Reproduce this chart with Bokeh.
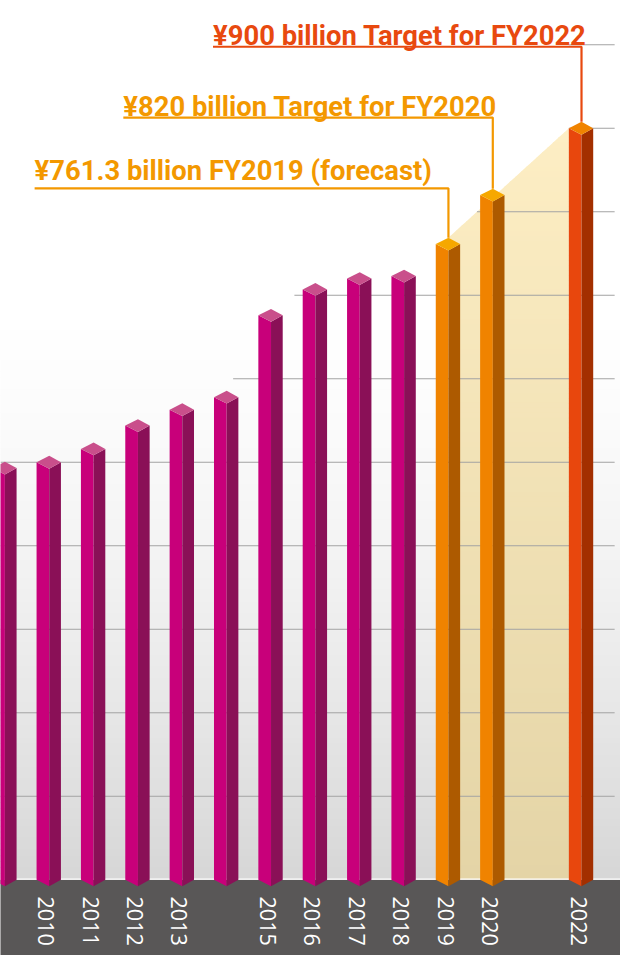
import numpy as np
from bokeh.plotting import figure
from bokeh.models import Range1d
from bokeh.core.properties import value
from bokeh.embed import file_html
from bokeh.resources import INLINE

# ---------------- data ----------------
years = [2009, 2010, 2011, 2012, 2013, 2014, 2015, 2016, 2017, 2018, 2019, 2020, 2022]
sales = [493, 500, 516, 544, 563, 578, 676, 707, 720, 723, 761.3, 820, 900]
kinds = ["actual"] * 10 + ["forecast", "target", "final"]
label_years = [2010, 2011, 2012, 2013, 2015, 2016, 2017, 2018, 2019, 2020, 2022]
grid_levels = [100, 200, 300, 400, 500, 600, 700, 800, 900, 1000]
callout_texts = ["¥761.3 billion FY2019 (forecast)",
                 "¥820 billion Target for FY2020",
                 "¥900 billion Target for FY2022"]
callout_years = [2019, 2020, 2022]

# ---------------- layout helpers (reference-pixel geometry) ----------------
PX_YEAR = 45.5      # px per year
PX_UNIT = 0.849     # px per billion yen
X_REF, SX_REF = 2010, 50.0
BASE_SY = 894.0
FS = 0.98           # font scale (figure is slightly smaller than reference)

def xd(sx):
    return X_REF + (sx - SX_REF) / PX_YEAR

def yd(sy):
    return (BASE_SY - sy) / PX_UNIT

WL = 13 / PX_YEAR      # front-left face width
WR = 12 / PX_YEAR      # right face width
DV = 6.5 / PX_UNIT     # half height of top diamond

XL, XR = xd(0), xd(636)
YB, YT = yd(971), yd(0)
GX_END = xd(630)

p = figure(width=620, height=955, x_range=Range1d(XL, XR), y_range=Range1d(YB, YT),
           output_backend="svg", toolbar_location=None, min_border=0)
p.axis.visible = False
p.grid.visible = False
p.outline_line_color = None
p.background_fill_color = "white"
p.border_fill_color = "white"

# ---------------- background gradient ----------------
bl, br, bb, bt, bc = [], [], [], [], []
step = 6
for sy in range(0, 894, step):
    t = max(0.0, (sy - 300) / (894 - 300))
    g = int(round(255 - (255 - 214) * t ** 1.5))
    bl.append(XL - 1); br.append(XR + 1)
    bt.append(yd(sy - 1)); bb.append(yd(min(sy + step, 894)))
    bc.append("#%02x%02x%02x" % (g, g, g))
p.quad(left=bl, right=br, bottom=bb, top=bt, fill_color=bc, line_color=None)

# ---------------- shaded target area ----------------
v19 = sales[years.index(2019)]
v22 = sales[years.index(2022)]
ax0, ay0 = 2019, v19 + DV
ax1, ay1 = 2022 - WL, v22

def xleft(v):
    if v <= ay0:
        return ax0
    return ax0 + (v - ay0) / (ay1 - ay0) * (ax1 - ax0)

pxs, pys, pcs = [], [], []
top_sy = BASE_SY - ay1 * PX_UNIT
c_top = np.array([0xFD, 0xEE, 0xC4])
c_bot = np.array([0xE4, 0xD4, 0xA6])
sy = top_sy
while sy < BASE_SY:
    sy2 = min(sy + 5, BASE_SY)
    hi = min(yd(sy - 0.8), ay1)
    lo = yd(sy2)
    xs = [xleft(lo), ax1, ax1, xleft(hi)]
    ys = [lo, lo, hi, hi]
    if lo < ay0 < hi:
        xs.append(ax0); ys.append(ay0)
    t = (sy - top_sy) / (BASE_SY - top_sy)
    c = (c_top + (c_bot - c_top) * t).round().astype(int)
    pxs.append(xs); pys.append(ys); pcs.append("#%02x%02x%02x" % tuple(c))
    sy = sy2
p.patches(xs=pxs, ys=pys, fill_color=pcs, line_color=None)

# ---------------- grid lines (only under the bar-top skyline) ----------------
sky = [(yr, v + DV) for yr, v, k in zip(years, sales, kinds) if k in ("actual", "forecast")]
sky.append((ax1, ay1))

g_x0, g_x1, g_y = [], [], []
for lv in grid_levels:
    iv = []
    if sky[0][1] >= lv:
        iv.append([XL, sky[0][0]])
    for (xa, ya), (xb, yb) in zip(sky[:-1], sky[1:]):
        if ya >= lv and yb >= lv:
            iv.append([xa, xb])
        elif ya >= lv or yb >= lv:
            xc = xa + (lv - ya) / (yb - ya) * (xb - xa)
            iv.append([xa, xc] if ya >= lv else [xc, xb])
    iv.append([ax1, GX_END])
    merged = []
    for a, b in iv:
        if merged and a <= merged[-1][1] + 1e-9:
            merged[-1][1] = max(merged[-1][1], b)
        else:
            merged.append([a, b])
    for a, b in merged:
        g_x0.append(a); g_x1.append(b); g_y.append(lv)
p.segment(x0=g_x0, y0=g_y, x1=g_x1, y1=g_y, line_color="#a3a3a3", line_width=1)

# ---------------- bottom band ----------------
p.quad(left=[XL - 1], right=[XR + 1], bottom=[YB - 10], top=[0], fill_color="#595757", line_color=None)
p.quad(left=[XL - 1], right=[XR + 1], bottom=[0], top=[yd(892.6)], fill_color="white", line_color=None)

# ---------------- bars ----------------
palette = {
    "actual":   ("#c8007a", "#8a1057", "#c94f8b"),
    "forecast": ("#f08300", "#ad5a00", "#f6a800"),
    "target":   ("#f08300", "#ad5a00", "#f6a800"),
    "final":    ("#e8470d", "#a32f00", "#f08300"),
}
lx, ly, lc, rx, ry, rc, tx, ty, tc = [], [], [], [], [], [], [], [], []
for yr, v, k in zip(years, sales, kinds):
    fc, sc, tcol = palette[k]
    lx.append([yr - WL, yr, yr, yr - WL]); ly.append([v, v - DV, -DV, 0]); lc.append(fc)
    rx.append([yr, yr + WR, yr + WR, yr]); ry.append([v - DV, v, 0, -DV]); rc.append(sc)
    tx.append([yr - WL, yr, yr + WR, yr]); ty.append([v, v + DV, v, v - DV]); tc.append(tcol)
p.patches(xs=lx, ys=ly, fill_color=lc, line_color=None)
p.patches(xs=rx, ys=ry, fill_color=rc, line_color=None)
p.patches(xs=tx, ys=ty, fill_color=tc, line_color=None)

# ---------------- year labels ----------------
p.text(x=[y - 3.0 / PX_YEAR for y in label_years], y=[yd(911)] * len(label_years),
       text=[str(y) for y in label_years], angle=-np.pi / 2,
       text_align="left", text_baseline="alphabetic",
       text_color="white", text_font=value("Open Sans"), text_font_size="%.1fpx" % (22 * FS))

# ---------------- callouts ----------------
callout_colors = ["#f39800", "#f39800", "#e8490f"]
text_sx = [35, 126, 218]
text_base_sy = [173, 108, 36]
line_sy = [191, 119, 47]
for txt, yr, col, tsx, tby, lsy in zip(callout_texts, callout_years, callout_colors,
                                       text_sx, text_base_sy, line_sy):
    v = sales[years.index(yr)]
    p.line(x=[xd(tsx), yr, yr], y=[yd(lsy), yd(lsy), v + DV], line_color=col, line_width=2.2)
    p.text(x=[xd(tsx)], y=[yd(tby)], text=[txt], text_color=col,
           text_font=value("Roboto"), text_font_style="bold",
           text_font_size="%.1fpx" % (28 * FS), text_align="left", text_baseline="alphabetic")

open("out.html", "w").write(file_html(p, INLINE))
